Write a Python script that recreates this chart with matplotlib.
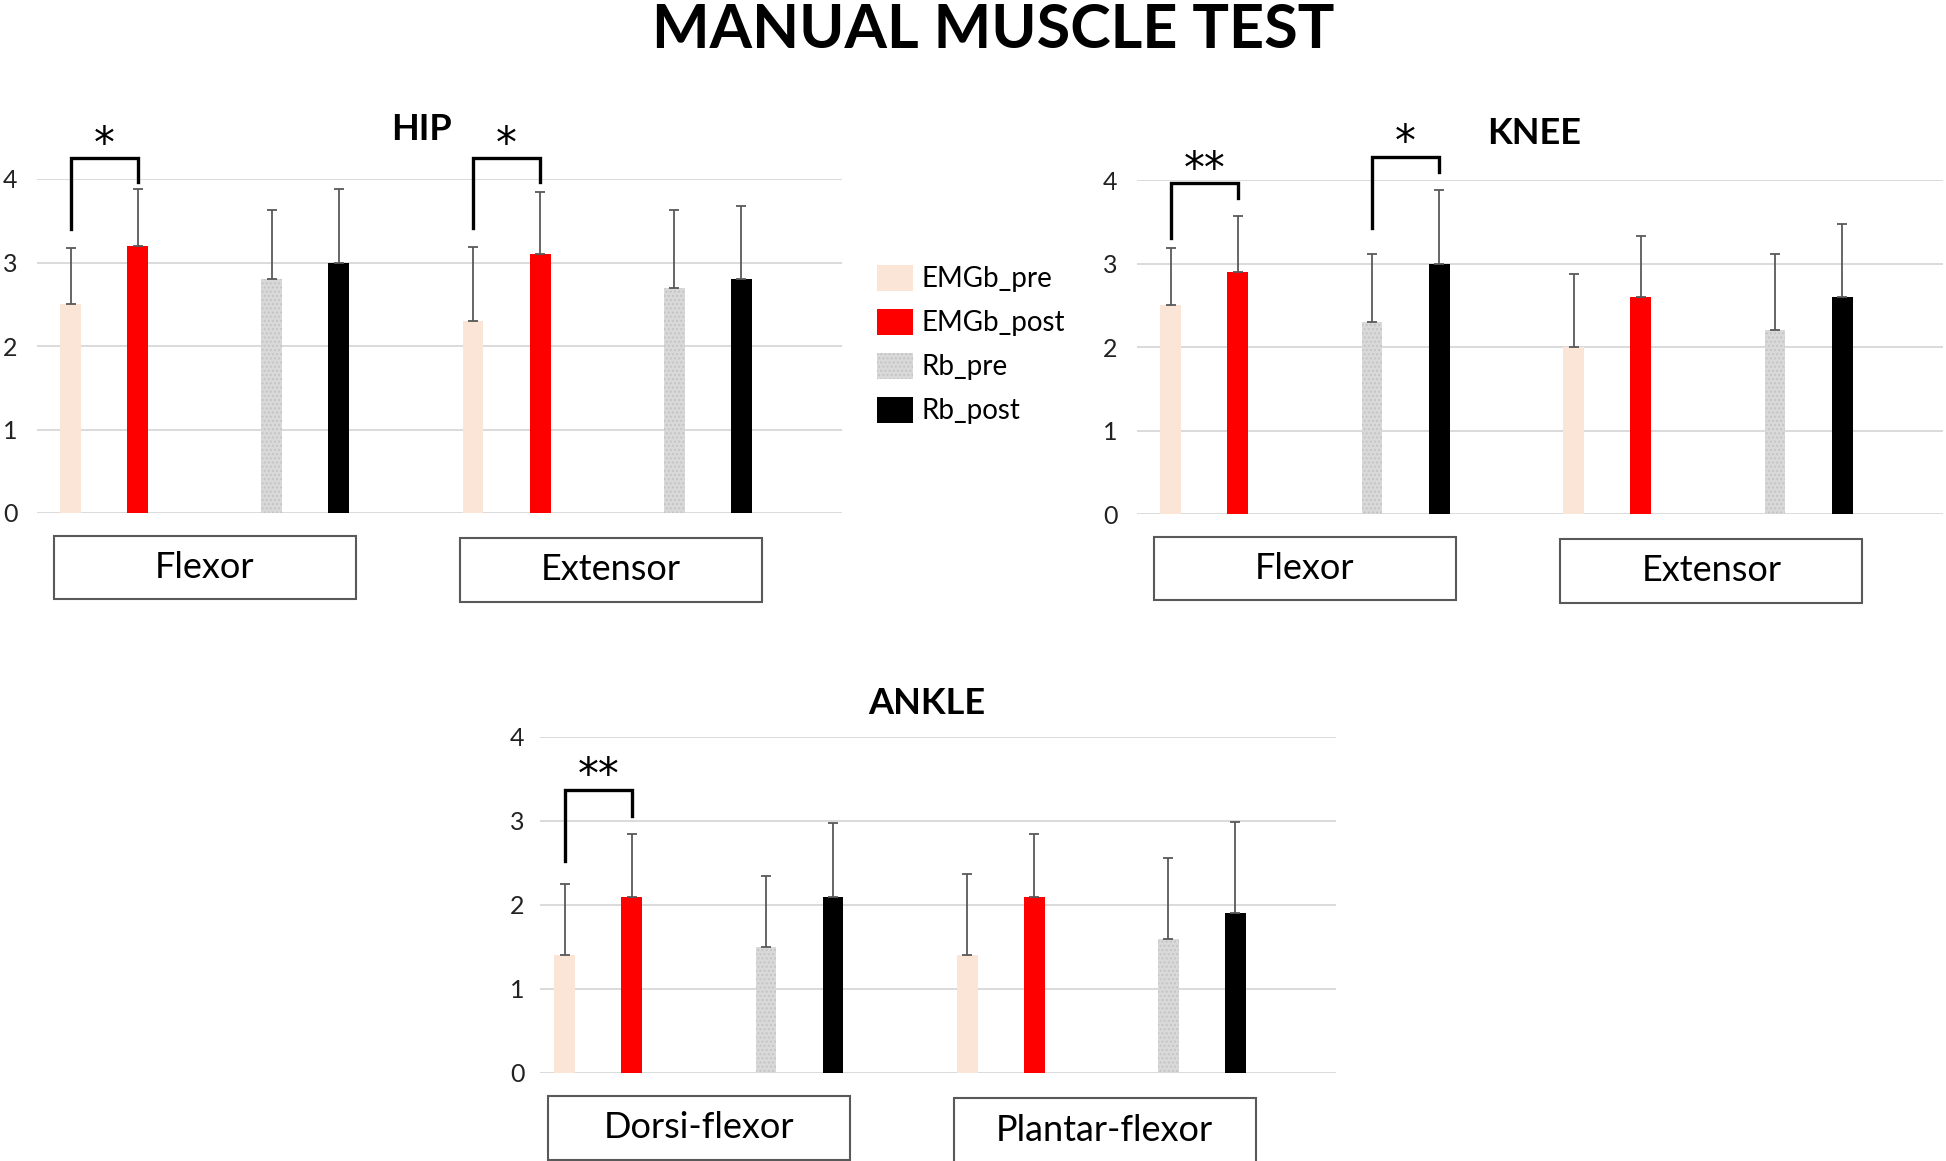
import numpy as np
import matplotlib
matplotlib.use("Agg")
import matplotlib.pyplot as plt
from matplotlib.patches import Patch, Rectangle

plt.rcParams['font.family'] = ['Lato', 'DejaVu Sans']

# series and groups
series = ["EMGb_pre", "EMGb_post", "Rb_pre", "Rb_post"]
colors = ["#fbe5d6", "#ff0000", "#d9d9d9", "#000000"]
hip_groups = ["Flexor", "Extensor"]
knee_groups = ["Flexor", "Extensor"]
ankle_groups = ["Dorsi-flexor", "Plantar-flexor"]

# means (rows = series, cols = groups)
hip_means = [[2.5, 2.3], [3.2, 3.1], [2.8, 2.7], [3.0, 2.8]]
hip_sd = [[0.67, 0.88], [0.68, 0.75], [0.83, 0.93], [0.88, 0.88]]

knee_means = [[2.5, 2.0], [2.9, 2.6], [2.3, 2.2], [3.0, 2.6]]
knee_sd = [[0.68, 0.88], [0.67, 0.73], [0.81, 0.91], [0.88, 0.87]]

ankle_means = [[1.4, 1.4], [2.1, 2.1], [1.5, 1.6], [2.1, 1.9]]
ankle_sd = [[0.85, 0.97], [0.74, 0.74], [0.84, 0.96], [0.88, 1.09]]

# significance: (group, series a, series b, left leg start, top, right leg end, stars)
hip_sig = [(0, 0, 1, 3.40, 4.25, 3.96, "*"), (1, 0, 1, 3.41, 4.25, 3.96, "*")]
knee_sig = [(0, 0, 1, 3.31, 3.96, 3.79, "**"), (0, 2, 3, 3.43, 4.28, 4.10, "*")]
ankle_sig = [(0, 0, 1, 2.52, 3.37, 3.06, "**")]

slot = [0, 1, 3, 4]
group_off = [0, 6]
W, H = 1946, 1161


def panel(rect, title, title_y, groups, means, sd, sig, xmin, pad):
    ax = fig.add_axes([rect[0] / W, 1 - rect[3] / H, (rect[2] - rect[0]) / W,
                       (rect[3] - rect[1]) / H])
    for i in range(4):
        x = np.array([slot[i] + g for g in group_off])
        m = np.array(means[i])
        e = np.array(sd[i])
        hatch = "...." if series[i] == "Rb_pre" else None
        ax.bar(x, m, width=0.31, color=colors[i], hatch=hatch,
               edgecolor="#c4c4c4" if hatch else colors[i], linewidth=0, zorder=2)
        ax.errorbar(x, m, yerr=[np.zeros_like(e), e], fmt="none",
                    ecolor="#595959", elinewidth=1.3, capsize=3.5, capthick=1.3, zorder=3)
    ax.set_xlim(xmin, 11.5)
    ax.set_ylim(0, 4)
    ax.set_yticks([0, 1, 2, 3, 4])
    ax.set_xticks([])
    ax.yaxis.grid(True, color="#d4d4d4", linewidth=1.2)
    ax.set_axisbelow(True)
    for s in ax.spines.values():
        s.set_visible(False)
    ax.tick_params(axis="y", length=0, pad=pad, labelsize=18, labelcolor="#222222")

    # category boxes
    for j, name in enumerate(groups):
        cx = 2 + group_off[j] + 0.05 * j
        y0 = -0.27 - 0.03 * j
        ax.add_patch(Rectangle((cx - 2.25, y0 - 0.76), 4.5, 0.76, transform=ax.transData,
                               fill=False, edgecolor="#595959", linewidth=1.5, clip_on=False))
        ax.text(cx, y0 - 0.38, name, ha="center", va="center", fontsize=26)

    # brackets
    for g, a, b, ya, yt, yb, lab in sig:
        xa = slot[a] + group_off[g]
        xb = slot[b] + group_off[g]
        ax.plot([xa, xa, xb, xb], [ya, yt, yt, yb], color="black", linewidth=2.4,
                clip_on=False, zorder=4, solid_joinstyle="miter")
        ax.text((xa + xb) / 2, yt + 0.16, lab, ha="center", va="center", fontsize=30,
                family="DejaVu Sans")

    fig.text(title[1] / W, 1 - title_y / H, title[0], ha="center", va="center",
             fontsize=26, fontweight="bold")
    return ax


fig = plt.figure(figsize=(19.46, 11.61), dpi=100)

fig.text(993 / W, 1 - 30 / H, "MANUAL MUSCLE TEST", ha="center", va="center",
         fontsize=44, fontweight="bold")

panel((37, 179, 842, 513), ("HIP", 422), 130, hip_groups, hip_means, hip_sd, hip_sig, -0.5, 14)
panel((1137, 180, 1943, 514), ("KNEE", 1534), 134, knee_groups, knee_means, knee_sd, knee_sig, -0.5, 14)
panel((540, 737, 1336, 1073), ("ANKLE", 927), 704, ankle_groups, ankle_means, ankle_sd, ankle_sig, -0.37, 11)

handles = [Patch(facecolor=c, edgecolor="#c4c4c4" if s == "Rb_pre" else c,
                 hatch="...." if s == "Rb_pre" else None, linewidth=0)
           for s, c in zip(series, colors)]
fig.legend(handles, series, loc="upper left", bbox_to_anchor=(852 / W, 1 - 240 / H),
           frameon=False, fontsize=20, handlelength=1.3, handleheight=1.05,
           handletextpad=0.3, labelspacing=0.6)

fig.savefig("out.png", dpi=100)
